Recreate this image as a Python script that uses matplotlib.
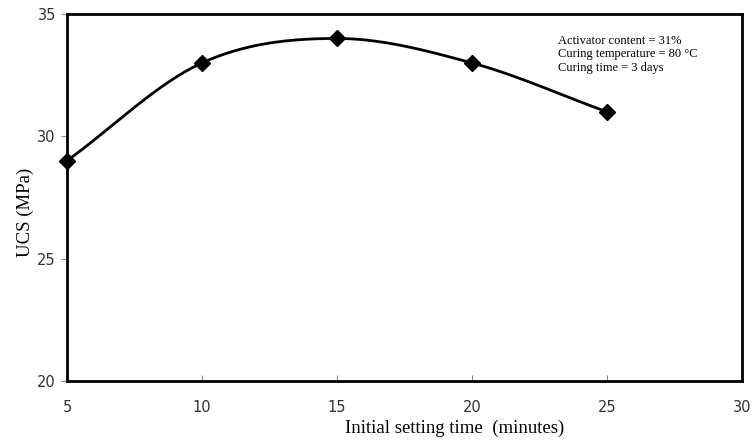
import numpy as np
import matplotlib.pyplot as plt

# dados
tempo = [5, 10, 15, 20, 25]
ucs = [29, 33, 34, 33, 31]
x_ticks = [5, 10, 15, 20, 25, 30]
y_ticks = [20, 25, 30, 35]
notas = ["Activator content = 31%", "Curing temperature = 80 °C", "Curing time = 3 days"]


def curva_suave(x, y, n=40):
    # spline Catmull-Rom (parecido com a linha suavizada do Excel)
    x = np.asarray(x, float)
    y = np.asarray(y, float)
    px = np.concatenate([[2 * x[0] - x[1]], x, [2 * x[-1] - x[-2]]])
    py = np.concatenate([[2 * y[0] - y[1]], y, [2 * y[-1] - y[-2]]])
    xs, ys = [], []
    t = np.linspace(0, 1, n)
    for i in range(1, len(px) - 2):
        for p, out in ((px, xs), (py, ys)):
            p0, p1, p2, p3 = p[i - 1], p[i], p[i + 1], p[i + 2]
            out.extend(0.5 * ((2 * p1) + (-p0 + p2) * t
                              + (2 * p0 - 5 * p1 + 4 * p2 - p3) * t ** 2
                              + (-p0 + 3 * p1 - 3 * p2 + p3) * t ** 3))
    return xs, ys


fig = plt.figure(figsize=(7.52, 4.41), dpi=100)
ax = fig.add_axes([67 / 752, 60 / 441, 675 / 752, 367 / 441])

sx, sy = curva_suave(tempo, ucs)
ax.plot(sx, sy, color="black", lw=2)
ax.plot(tempo, ucs, "D", color="black", ms=8, clip_on=False)

ax.set_xlim(5, 30)
ax.set_ylim(20, 35)
ax.set_xticks(x_ticks)
ax.set_yticks(y_ticks)
ax.tick_params(axis="x", direction="in", length=4, pad=14, colors="#888888",
               labelcolor="#333333", labelsize=10.5)
ax.tick_params(axis="y", direction="out", length=4, pad=4, colors="#888888",
               labelcolor="#333333", labelsize=10.5)
for s in ax.spines.values():
    s.set_linewidth(2)
    s.set_color("black")

fig.text(455 / 752, 1 - 428 / 441, "Initial setting time  (minutes)", ha="center", va="center",
         family="Liberation Serif", fontsize=13.5)
fig.text(25 / 752, 1 - 212 / 441, "UCS (MPa)", ha="center", va="center", rotation=90,
         family="Liberation Serif", fontsize=13.5)

for i, linha in enumerate(notas):
    fig.text(558 / 752, 1 - (41 + 13.5 * i) / 441, linha, ha="left", va="center",
             family="Liberation Serif", fontsize=9)

fig.savefig("out.png", dpi=100)
